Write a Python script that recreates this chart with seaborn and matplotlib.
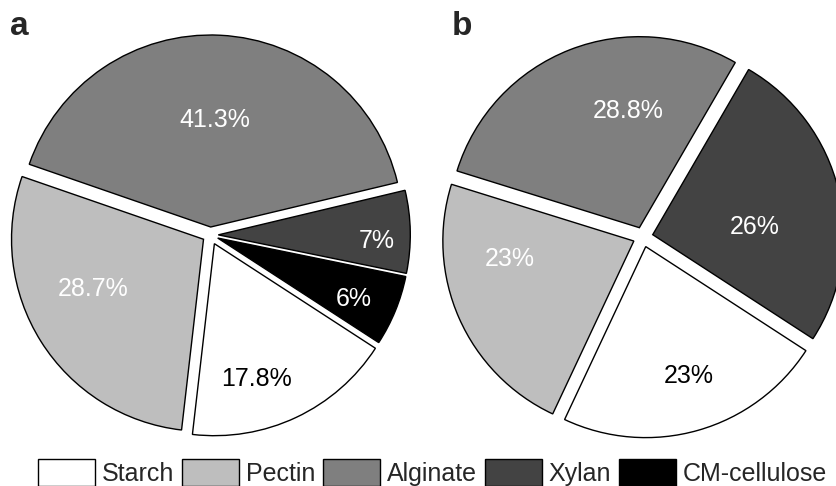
import numpy as np
import matplotlib
matplotlib.use("Agg")
import matplotlib.pyplot as plt
import seaborn as sns
from matplotlib.patches import Patch

# Substrate shares for the two panels
categories = ["Starch", "Pectin", "Alginate", "Xylan", "CM-cellulose"]
shares_a = [17.8, 28.7, 41.3, 7, 6]
labels_a = ["17.8%", "28.7%", "41.3%", "7%", "6%"]
shares_b = [23, 23, 28.8, 26]
labels_b = ["23%", "23%", "28.8%", "26%"]
panel_letters = ["a", "b"]

sns.set_theme(style="white")
plt.rcParams["font.family"] = ["Liberation Sans", "DejaVu Sans"]

grays = ["#ffffff", "#bebebe", "#7f7f7f", "#434343", "#000000"]
text_colors = ["black", "white", "white", "white", "white"]

W, H = 837, 486
fig = plt.figure(figsize=(W / 100, H / 100), dpi=100)
fig.patch.set_facecolor("white")
ax = fig.add_axes([0, 0, 1, 1])


def draw_pie(values, labels, center, radius, explode, label_pos):
    wedges, _ = ax.pie(
        values,
        colors=grays[:len(values)],
        explode=explode,
        startangle=-33,
        counterclock=False,
        center=center,
        radius=radius,
        normalize=True,
        wedgeprops=dict(edgecolor="black", linewidth=1.0),
    )
    for w, lab, col, (frac, nudge) in zip(wedges, labels, text_colors, label_pos):
        mid = np.deg2rad((w.theta1 + w.theta2) / 2 + nudge)
        cx, cy = w.center
        ax.text(cx + frac * radius * np.cos(mid), cy + frac * radius * np.sin(mid),
                lab, ha="center", va="center_baseline", fontsize=18, color=col)


# panel a
draw_pie(shares_a, labels_a, center=(210.3, 251), radius=192,
         explode=[9.6, 8, 8, 8, 8],
         label_pos=[(0.727, -7.6), (0.625, -8.8), (0.57, 0.6), (0.825, -2.1), (0.77, -1.1)])
# panel b
draw_pie(shares_b, labels_b, center=(643, 249), radius=191,
         explode=[10, 10, 10, 10],
         label_pos=[(0.70, 2.7), (0.653, -16.6), (0.628, -16.0), (0.538, -8.0)])

ax.set_xlim(0, W)
ax.set_ylim(0, H)
ax.set_aspect("equal")
ax.axis("off")

handles = [Patch(facecolor=c, edgecolor="black", linewidth=1.0) for c in grays]
fig.legend(handles, categories, loc="lower center", ncol=5,
           bbox_to_anchor=(432.5 / W, 0.0), frameon=False, fontsize=18,
           handlelength=2.27, handleheight=1.28, handletextpad=0.27,
           columnspacing=0.33, borderpad=0.0, borderaxespad=0.0)

for letter, x in zip(panel_letters, [10, 452]):
    fig.text(x / W, 1 - 35 / H, letter, fontsize=24, fontweight="bold",
             ha="left", va="baseline")

fig.savefig("out.png", dpi=100, facecolor="white")
